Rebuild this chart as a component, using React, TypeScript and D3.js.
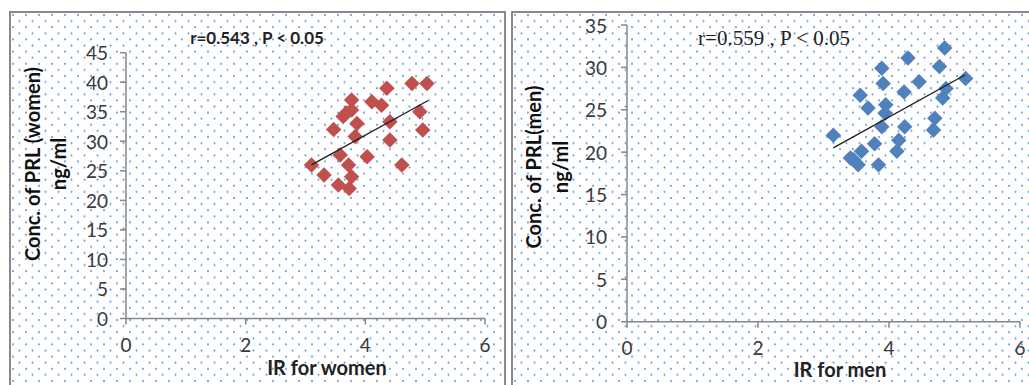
import * as d3 from "d3";

// women: IR vs PRL (ng/ml)
const womenIR = [3.1, 3.31, 3.47, 3.55, 3.58, 3.63, 3.77, 3.77, 3.72, 3.77, 3.73, 3.86, 3.83, 4.03, 4.11, 4.27, 4.36, 4.41, 4.41, 4.61, 4.78, 5.03, 4.91, 4.96, 3.68];
const womenPRL = [26.0, 24.3, 32.0, 22.6, 27.7, 34.2, 37.0, 35.3, 26.0, 24.0, 22.0, 33.0, 30.8, 27.4, 36.7, 36.1, 39.0, 33.3, 30.2, 26.0, 39.8, 39.8, 35.0, 31.9, 34.8];
const womenTrend = [[3.1, 26.0], [5.05, 36.9]];

// men
const menIR = [3.15, 3.46, 3.53, 3.58, 3.56, 3.68, 3.78, 3.84, 3.89, 3.91, 3.95, 3.94, 3.89, 4.15, 4.12, 4.23, 4.24, 4.29, 4.46, 4.7, 4.68, 4.77, 4.85, 4.87, 4.82, 5.17, 3.41];
const menPRL = [22.0, 19.1, 18.5, 20.1, 26.7, 25.2, 21.0, 18.5, 29.9, 28.1, 25.6, 24.6, 23.0, 21.4, 20.1, 27.1, 23.0, 31.1, 28.3, 24.0, 22.6, 30.1, 32.3, 27.5, 26.4, 28.7, 19.3];
const menTrend = [[3.15, 20.5], [5.16, 29.1]];

const xTicks = [0, 2, 4, 6];
const womenYTicks = [0, 5, 10, 15, 20, 25, 30, 35, 40, 45];
const menYTicks = [0, 5, 10, 15, 20, 25, 30, 35];

const sans = "Lato, 'Open Sans', sans-serif";
const diamond = d3.symbol(d3.symbolSquare, 120)();

type PanelProps = {
  id: string;
  xs: number[];
  ys: number[];
  trend: number[][];
  yTicks: number[];
  color: string;
  frameX: number;
  frameW: number;
  plot: { x0: number; x1: number; y0: number; y1: number };
  title: string;
  titleX: number;
  titleY: number;
  titleFont: string;
  titleWeight: string;
  titleSize: number;
  xLabel: string;
  xLabelX: number;
  xLabelY: number;
  yLabel: string;
  yLabelX: number;
  yUnitX: number;
  yLabelY: number;
  yLabelSize: number;
  yTickGap: number;
};

function Panel(p: PanelProps) {
  const x = d3.scaleLinear([0, 6], [p.plot.x0, p.plot.x1]);
  const y = d3.scaleLinear([0, d3.max(p.yTicks)!], [p.plot.y0, p.plot.y1]);
  const line = d3.line<number[]>().x((d) => x(d[0])).y((d) => y(d[1]));
  return (
    <g>
      <defs>
        <pattern id={p.id} patternUnits="userSpaceOnUse" width={13} height={12.2} x={p.frameX + 2} y={14}>
          <circle cx={1} cy={1} r={1} fill="#5a8ed3" />
          <circle cx={7.5} cy={7.1} r={1} fill="#5a8ed3" />
        </pattern>
      </defs>
      <rect x={p.frameX} y={12} width={p.frameW} height={390} fill="#fff" stroke="#8a8a8a" strokeWidth={2} />
      <rect x={p.frameX + 1} y={13} width={p.frameW - 2} height={388} fill={`url(#${p.id})`} />

      {/* axes */}
      <line x1={p.plot.x0} x2={p.plot.x0} y1={p.plot.y0} y2={p.plot.y1} stroke="#868686" strokeWidth={1.5} />
      <line x1={p.plot.x0} x2={p.plot.x1} y1={p.plot.y0} y2={p.plot.y0} stroke="#868686" strokeWidth={1.5} />
      {p.yTicks.map((t) => (
        <g key={"y" + t}>
          <line x1={p.plot.x0 - 6} x2={p.plot.x0} y1={y(t)} y2={y(t)} stroke="#868686" strokeWidth={1.5} />
          <text x={p.plot.x0 - p.yTickGap} y={y(t)} textAnchor="end" dominantBaseline="central"
            fontFamily={sans} fontSize={19} fill="#3a3a3a">{t}</text>
        </g>
      ))}
      {xTicks.map((t) => (
        <g key={"x" + t}>
          <line x1={x(t)} x2={x(t)} y1={p.plot.y0} y2={p.plot.y0 + 6} stroke="#868686" strokeWidth={1.5} />
          <text x={x(t)} y={p.plot.y0 + 26} textAnchor="middle" dominantBaseline="central"
            fontFamily={sans} fontSize={19} fill="#3a3a3a">{t}</text>
        </g>
      ))}

      {/* points */}
      {p.xs.map((v, i) => (
        <path key={i} d={diamond} fill={p.color}
          transform={`translate(${x(v)},${y(p.ys[i])}) rotate(45)`} />
      ))}
      <path d={line(p.trend)!} stroke="#1e1e1e" strokeWidth={1.3} fill="none" />

      {/* labels */}
      <text x={p.titleX} y={p.titleY} textAnchor="middle" dominantBaseline="central"
        fontFamily={p.titleFont} fontWeight={p.titleWeight} fontSize={p.titleSize} fill="#222">{p.title}</text>
      <text x={p.xLabelX} y={p.xLabelY} textAnchor="middle" dominantBaseline="central"
        fontFamily={sans} fontWeight="bold" fontSize={20} fill="#222">{p.xLabel}</text>
      <text transform={`translate(${p.yLabelX},${p.yLabelY}) rotate(-90)`} textAnchor="middle" dominantBaseline="central"
        fontFamily={sans} fontWeight="bold" fontSize={p.yLabelSize} fill="#111">{p.yLabel}</text>
      <text transform={`translate(${p.yUnitX},${p.yLabelY}) rotate(-90)`} textAnchor="middle" dominantBaseline="central"
        fontFamily={sans} fontWeight="bold" fontSize={p.yLabelSize} fill="#111">ng/ml</text>
    </g>
  );
}

export default function App() {
  return (
    <svg width={1029} height={385} style={{ position: "absolute", left: 0, top: 0, background: "#fff" }}>
      <Panel id="dotsL" xs={womenIR} ys={womenPRL} trend={womenTrend} yTicks={womenYTicks} color="#c0504d"
        frameX={10} frameW={495} plot={{ x0: 126, x1: 485, y0: 318.5, y1: 52.7 }}
        title="r=0.543 , P < 0.05" titleX={257} titleY={37} titleFont={sans} titleWeight="bold" titleSize={17}
        xLabel="IR for women" xLabelX={327} xLabelY={367}
        yLabel="Conc. of PRL (women)" yLabelX={32} yUnitX={58} yLabelY={164} yLabelSize={20} yTickGap={18} />
      <Panel id="dotsR" xs={menIR} ys={menPRL} trend={menTrend} yTicks={menYTicks} color="#4f81bd"
        frameX={512} frameW={530} plot={{ x0: 627, x1: 1020, y0: 321.7, y1: 25 }}
        title="r=0.559  , P < 0.05" titleX={774} titleY={38} titleFont="'Liberation Serif', 'DejaVu Serif', serif" titleWeight="normal" titleSize={21}
        xLabel="IR for men" xLabelX={840} xLabelY={369}
        yLabel="Conc. of PRL(men)" yLabelX={533} yUnitX={560} yLabelY={167} yLabelSize={20} yTickGap={20} />
    </svg>
  );
}
